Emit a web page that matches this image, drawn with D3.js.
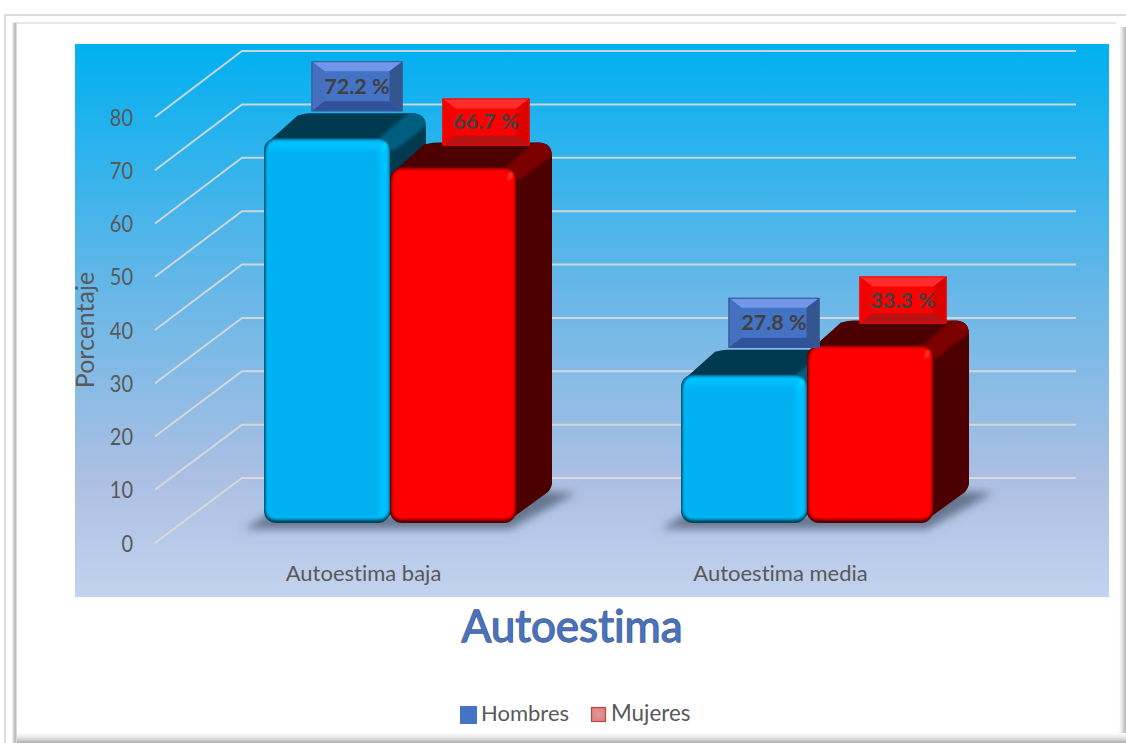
<!DOCTYPE html>
<html><head><meta charset="utf-8">
<script src="https://cdn.jsdelivr.net/npm/d3@7"></script>
<style>html,body{margin:0;padding:0;background:#fff}svg{display:block}text{font-family:Lato,Carlito,sans-serif;font-variant-ligatures:none}</style>
</head><body><svg id="c" width="1126" height="743"></svg>
<script>
const categories = ["Autoestima baja", "Autoestima media"];
const seriesNames = ["Hombres", "Mujeres"];
const hombres = [72.2, 27.8];
const mujeres = [66.7, 33.3];
const yTicks = [0, 10, 20, 30, 40, 50, 60, 70, 80];
const chartTitle = "Autoestima";
const axisTitle = "Porcentaje";

const W = 1126, H = 743;
const svg = d3.select("#c");
const defs = svg.append("defs");

// ---------- scales
const yFront = d3.scaleLinear().domain([0, 80]).range([543, 117]);
const yBack = d3.scaleLinear().domain([0, 80]).range([478, 51]);
const yBar = d3.scaleLinear().domain([0, 80]).range([523, 96.6]);
const xCat = d3.scaleBand().domain(categories).range([181.5, 1015.5]);
const xSeries = d3.scaleBand().domain(seriesNames).range([-126, 126]);
const xLabel = d3.scaleBand().domain(categories).range([155, 989]);

// ---------- defs
const bg = defs.append("linearGradient").attr("id", "bg").attr("x1", 0).attr("y1", 0).attr("x2", 0).attr("y2", 1);
[[0, "#00b0f0"], [0.4, "#5db6e8"], [0.78, "#abbfe3"], [1, "#c2d3ee"]].forEach(s => bg.append("stop").attr("offset", s[0]).attr("stop-color", s[1]));
[["b05", 0.5], ["b1", 1], ["b15", 1.5], ["b2", 2], ["b3", 4]].forEach(f =>
  defs.append("filter").attr("id", f[0]).attr("x", "-20%").attr("y", "-20%").attr("width", "140%").attr("height", "140%")
    .append("feGaussianBlur").attr("stdDeviation", f[1]));
function linGrad(id, x2, y2, stops) {
  const g = defs.append("linearGradient").attr("id", id).attr("x1", 0).attr("y1", 0).attr("x2", x2).attr("y2", y2);
  stops.forEach(s => g.append("stop").attr("offset", s[0]).attr("stop-color", s[1]));
}
linGrad("fL", 1, 0, [[0, "#ffffff"], [0.3, "#d0d0d0"], [0.7, "#bcbcbc"], [1, "#e8e8e8"]]);
linGrad("fR", 1, 0, [[0, "#ffffff"], [0.45, "#e4e4e4"], [1, "#b4b4b4"]]);
linGrad("fB", 0, 1, [[0, "#ffffff"], [0.5, "#e2e2e2"], [1, "#aeaeae"]]);
const lg = defs.append("radialGradient").attr("id", "lg2");
lg.append("stop").attr("offset", 0).attr("stop-color", "#c9a0a2");
lg.append("stop").attr("offset", 1).attr("stop-color", "#ee7c7c");

// ---------- frame
svg.append("rect").attr("width", W).attr("height", H).attr("fill", "#fff");
svg.append("rect").attr("x", 4).attr("y", 14).attr("width", W - 4).attr("height", 2).attr("fill", "#dcdcdc");
svg.append("rect").attr("x", 4).attr("y", 14).attr("width", 2).attr("height", H - 14).attr("fill", "#dcdcdc");
svg.append("rect").attr("x", 13).attr("y", 22).attr("width", 1103).attr("height", 2).attr("fill", "#e8e8e8");
svg.append("rect").attr("x", 12).attr("y", 23).attr("width", 5).attr("height", H - 23).attr("fill", "url(#fL)");
svg.append("rect").attr("x", 1119).attr("y", 27).attr("width", 7).attr("height", H - 27).attr("fill", "url(#fR)");
svg.append("rect").attr("x", 17).attr("y", 733).attr("width", W - 17).attr("height", 10).attr("fill", "url(#fB)");

// ---------- plot background
svg.append("rect").attr("x", 75).attr("y", 44).attr("width", 1034).attr("height", 553).attr("fill", "url(#bg)");

// ---------- gridlines
const wallX = 155, backX = 242, endX = 1076;
svg.append("g").selectAll("path").data(yTicks).join("path")
  .attr("d", v => d3.line()([[wallX, yFront(v)], [backX, yBack(v)], [endX, yBack(v)]]))
  .attr("fill", "none").attr("stroke", "#dadada").attr("stroke-width", 2).attr("stroke-opacity", .9);

// ---------- axes
const axL = svg.append("g").attr("transform", "translate(140,1)")
  .call(d3.axisLeft(yFront).tickValues(yTicks).tickSize(0).tickPadding(7));
axL.select(".domain").remove();
axL.selectAll("text").attr("font-size", 22.5).attr("fill", "#595959").style("font-family", "Lato,Carlito,sans-serif")
  .attr("lengthAdjust", "spacingAndGlyphs").attr("textLength", v => String(v).length * 11.6);
const axB = svg.append("g").attr("transform", "translate(0,565)")
  .call(d3.axisBottom(xLabel).tickSize(0).tickPadding(0));
axB.select(".domain").remove();
axB.selectAll("text").attr("font-size", 22).attr("fill", "#595959").attr("dy", "0.71em").style("font-family", "Lato,Carlito,sans-serif");

svg.append("text").text(axisTitle).attr("transform", "translate(94,330) rotate(-90)")
  .attr("text-anchor", "middle").attr("font-size", 25).attr("fill", "#595959");

// ---------- bars
const dx = 36, dy = 25, bw = 126;
const palette = {
  Hombres: { face: "#00b0f0", lite: "#00c0ff", edge: "#00405c", top: "#003a50", band: "#005f80", spark: "#00d8ff" },
  Mujeres: { face: "#ff0000", lite: "#ff0000", edge: "#500000", top: "#4c0000", band: "#7c0000", spark: "#ff3030" }
};
const barData = [];
categories.forEach((c, i) => {
  barData.push({ c, s: seriesNames[0], v: hombres[i], i });
  barData.push({ c, s: seriesNames[1], v: mujeres[i], i });
});
const bx = d => xCat(d.c) + xCat.bandwidth() / 2 + xSeries(d.s);

// floor shadows
const shadowG = svg.append("g");
categories.forEach(c => {
  const cx = xCat(c) + xCat.bandwidth() / 2;
  shadowG.append("path").attr("filter", "url(#b3)").attr("fill", "#5a6780").attr("fill-opacity", .85)
    .attr("d", d3.line()([[cx - 146, 529], [cx + 120, 529], [cx + 186, 493], [cx + 150, 491], [cx + 60, 513], [cx - 120, 513]]));
});

barData.forEach((d, k) => {
  const p = palette[d.s];
  const x = bx(d), top = yBar(d.v), bot = yBar(0), w = bw, r = 12;
  const g = svg.append("g");
  const R = x + w;
  const body = d3.path();
  body.moveTo(x + 6, top + 2);
  body.lineTo(x + dx - 2, top - dy + 2);
  body.quadraticCurveTo(x + dx + 6, top - dy, x + dx + 10, top - dy);
  body.lineTo(R + dx - 14, top - dy);
  body.quadraticCurveTo(R + dx, top - dy, R + dx, top - dy + 14);
  body.lineTo(R + dx, bot - 40);
  body.quadraticCurveTo(R + dx, bot - 36, R + dx - 4, bot - 31);
  body.lineTo(R - 8, bot - 2);
  body.lineTo(x + 12, bot);
  body.closePath();
  g.append("path").attr("d", body.toString()).attr("fill", p.top);
  const clipId = "bc" + k;
  defs.append("clipPath").attr("id", clipId).append("path").attr("d", body.toString());
  g.append("g").attr("clip-path", `url(#${clipId})`).append("path")
    .attr("filter", "url(#b15)").attr("fill", p.band)
    .attr("d", d3.line()([[R - 12, top + 1], [R + dx - 15, top - dy - 2], [R + dx + 4, top - dy - 2], [R + dx + 4, top - dy + 10], [R + 3, top + 13]]));
  // front face
  const fid = "fc" + k;
  defs.append("clipPath").attr("id", fid).append("rect").attr("x", x).attr("y", top).attr("width", w).attr("height", bot - top).attr("rx", r);
  const f = g.append("g").attr("clip-path", `url(#${fid})`);
  f.append("rect").attr("x", x).attr("y", top).attr("width", w).attr("height", bot - top).attr("fill", p.edge);
  f.append("rect").attr("x", x + 2).attr("y", top + 1).attr("width", w - 2.5).attr("height", bot - top - 4.5).attr("rx", r - 2)
    .attr("fill", p.lite).attr("filter", "url(#b15)");
  f.append("rect").attr("x", x + 3).attr("y", top + 11).attr("width", w - 14).attr("height", bot - top - 17).attr("rx", 4)
    .attr("fill", p.face).attr("filter", "url(#b2)");
  f.append("path").attr("filter", "url(#b1)").attr("fill", p.spark)
    .attr("d", d3.line()([[R - 7, top + 5], [R - 3, top + 5], [R - 4, top + 11], [R - 9, top + 13]]));
});

// ---------- data labels
function bevel(g, cx, bottom, w, h, col) {
  const l = cx - w / 2, r = cx + w / 2, t = bottom - h, b = bottom, ix = 13, iy = 10;
  const face = (pts, fill) => g.append("polygon").attr("points", pts.map(q => q.join(",")).join(" ")).attr("fill", fill);
  face([[l, t], [r, t], [r, b], [l, b]], col.c);
  face([[l, t], [r, t], [r - ix, t + iy], [l + ix, t + iy]], col.t);
  face([[l, t], [l + ix, t + iy], [l + ix, b - iy], [l, b]], col.l);
  face([[r, t], [r - ix, t + iy], [r - ix, b - iy], [r, b]], col.r);
  face([[l, b], [l + ix, b - iy], [r - ix, b - iy], [r, b]], col.b);
  g.append("rect").attr("x", l + .5).attr("y", t + .5).attr("width", w - 1).attr("height", h - 1).attr("fill", "none").attr("stroke", col.s).attr("stroke-width", 1);
}
const labelStyle = {
  Hombres: { c: "#4472c4", t: "#7297ea", l: "#4570c0", r: "#34568f", b: "#30529a", s: "#38598f", off: -27, shift: 30, w: 91, h: 50 },
  Mujeres: { c: "#ff0000", t: "#ff2c2c", l: "#f40000", r: "#dc0000", b: "#b81212", s: "#e81010", off: -22, shift: 33, w: 87, h: 47 }
};
barData.forEach(d => {
  const st = labelStyle[d.s];
  const cx = bx(d) + bw / 2 + st.shift, bottom = yBar(d.v) + st.off;
  const g = svg.append("g");
  bevel(g, cx, bottom, st.w, st.h, st);
  g.append("text").text(d3.format(".1f")(d.v) + " %").attr("x", cx).attr("y", bottom - st.h / 2 + 7.5)
    .attr("text-anchor", "middle").attr("font-size", 21.5).attr("font-weight", 700).attr("fill", "#404040");
});

// ---------- title
svg.append("text").text(chartTitle).attr("x", 572).attr("y", 642).attr("text-anchor", "middle")
  .attr("font-size", 44).attr("fill", "#4472c4").attr("stroke", "#55596a").attr("stroke-width", 1.3).attr("paint-order", "stroke");

// ---------- legend
svg.append("rect").attr("x", 460).attr("y", 706).attr("width", 17).attr("height", 18).attr("fill", "#4472c4");
svg.append("text").text(seriesNames[0]).attr("x", 481).attr("y", 721).attr("font-size", 22).attr("fill", "#595959");
svg.append("rect").attr("x", 591.5).attr("y", 707.5).attr("width", 14).attr("height", 14).attr("fill", "url(#lg2)").attr("stroke", "#b04a4a").attr("stroke-width", 1.2);
svg.append("text").text(seriesNames[1]).attr("x", 611).attr("y", 721).attr("font-size", 22.4).attr("fill", "#595959");
</script></body></html>
